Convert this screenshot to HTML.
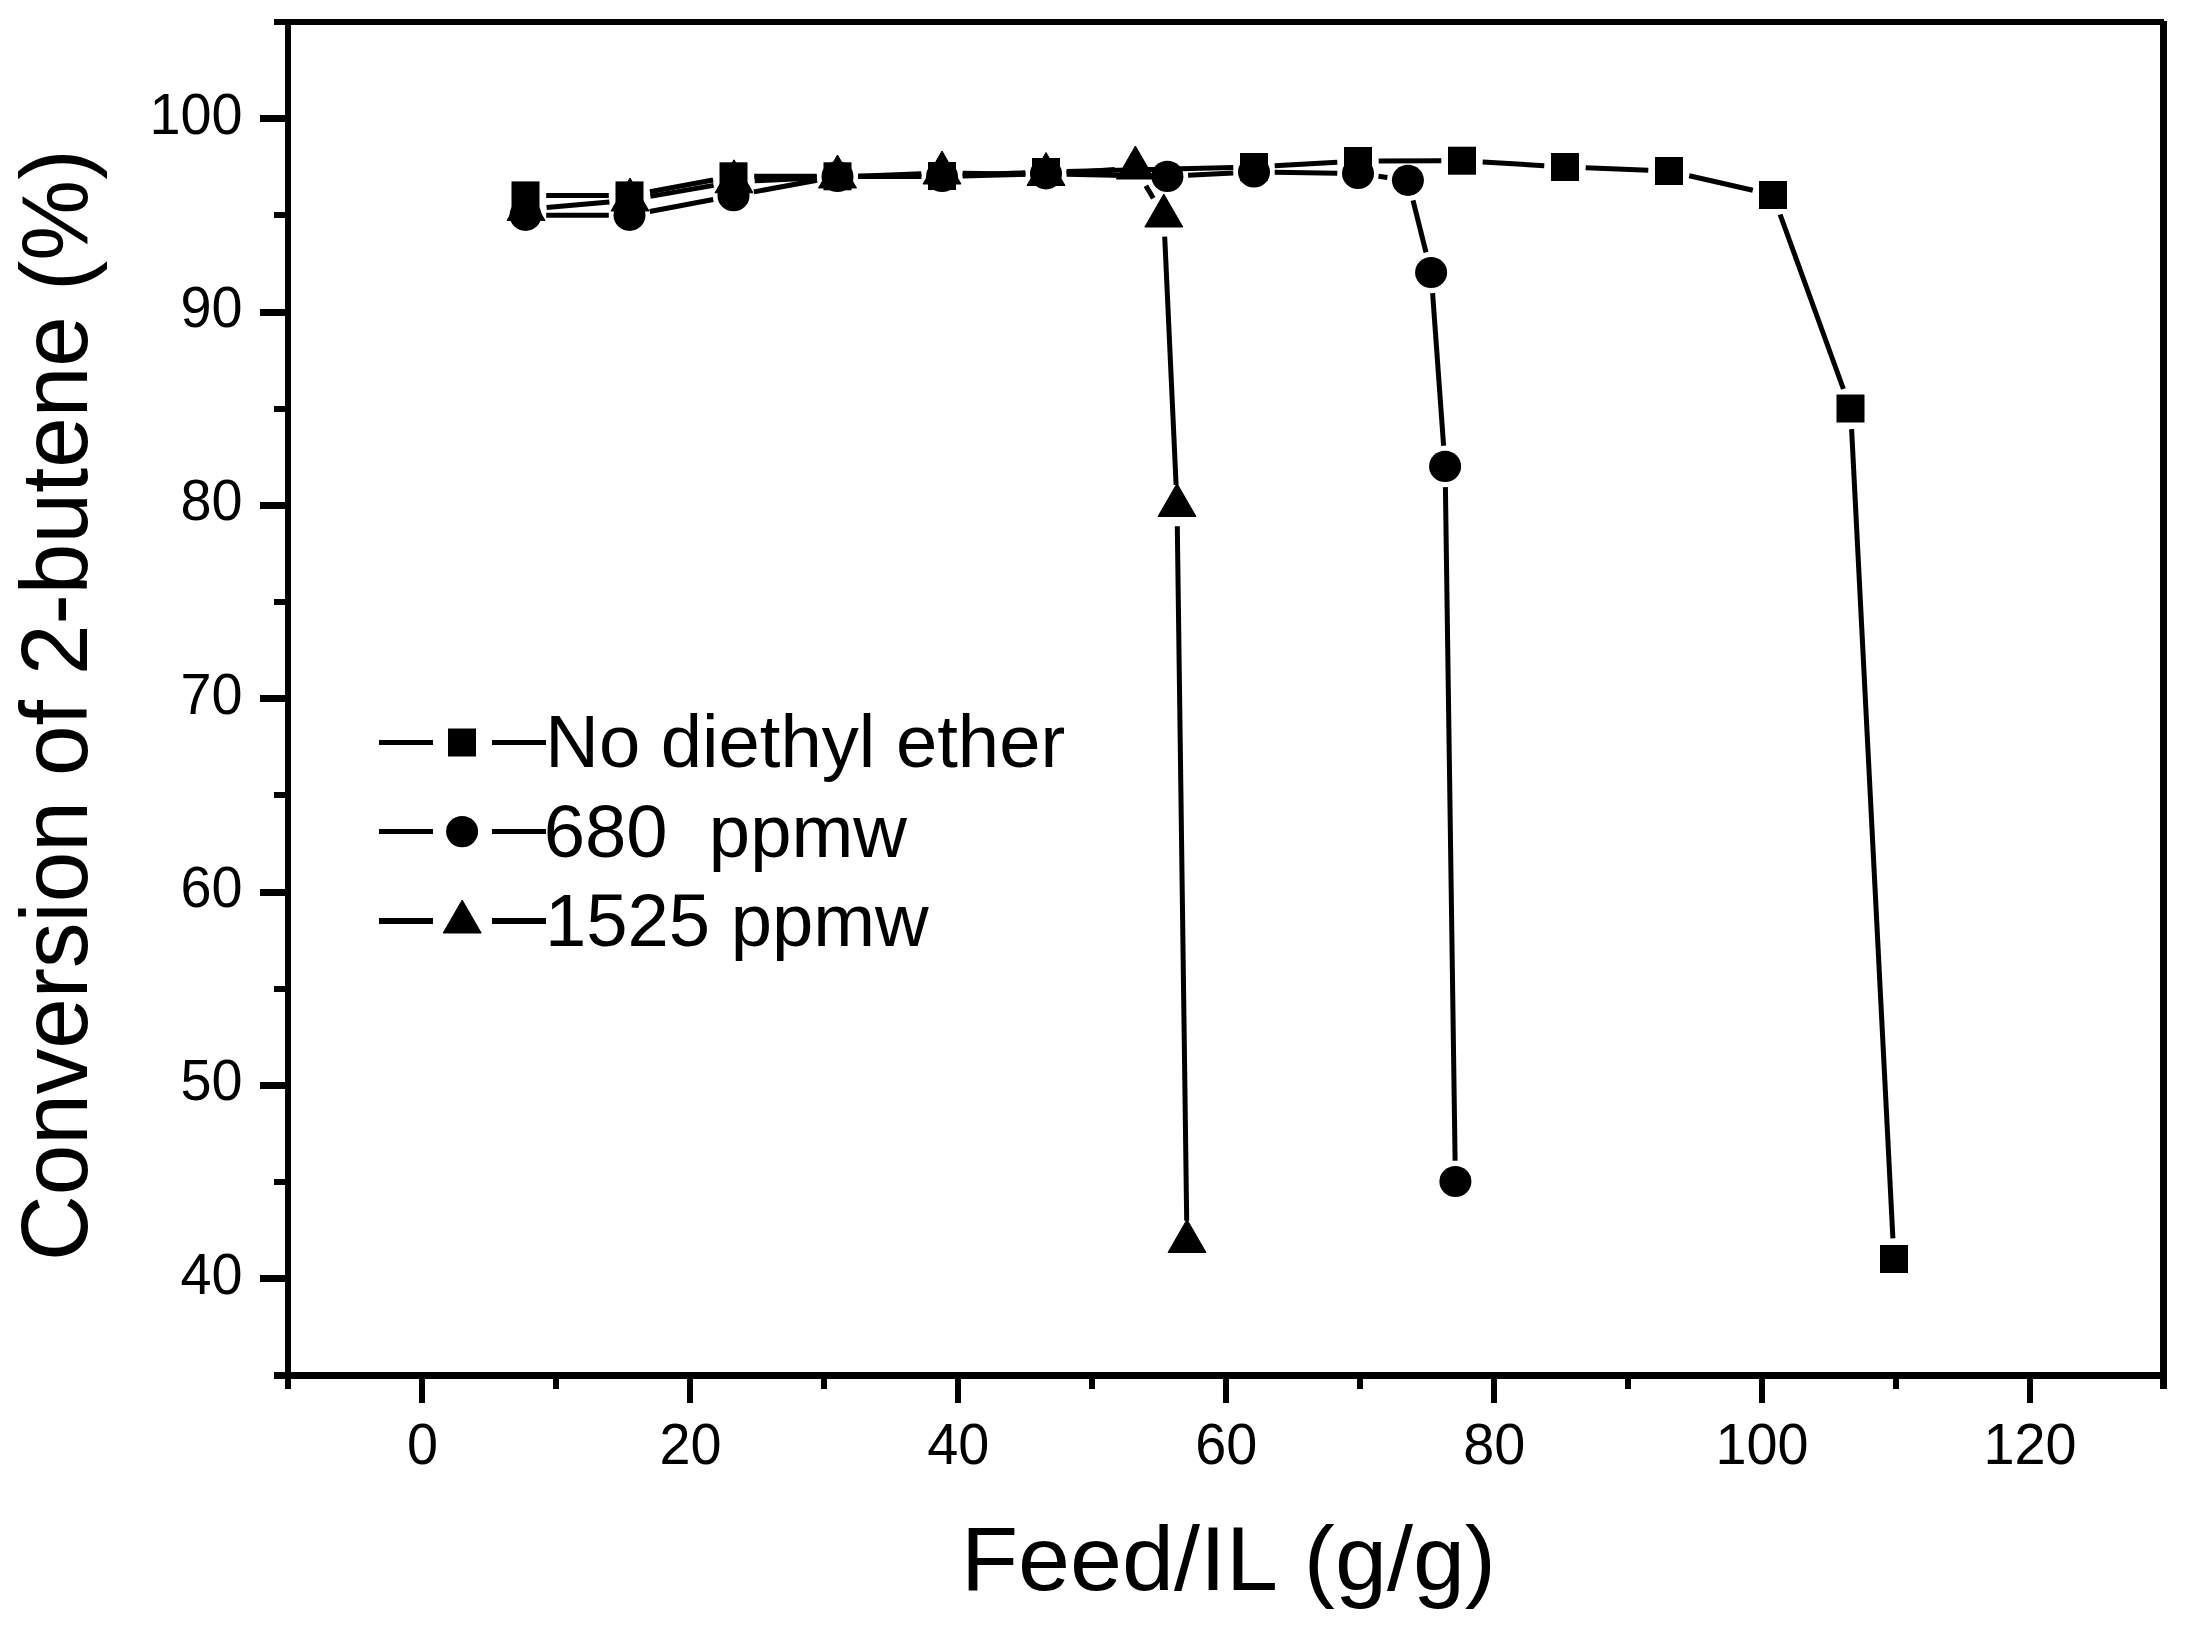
<!DOCTYPE html>
<html lang="en"><head><meta charset="utf-8"><title>Conversion of 2-butene vs Feed/IL</title>
<style>
html,body{margin:0;padding:0;background:#fff;}
body{width:2185px;height:1626px;overflow:hidden;}
svg{display:block;}
text{font-family:"Liberation Sans",Arial,Helvetica,sans-serif;fill:#000;font-kerning:none;}
.tick{font-size:56.8px;}
.leg{font-size:74px;}
.xlab{font-size:91.5px;}
.ylab{font-size:94px;}
</style></head><body>
<svg width="2185" height="1626" viewBox="0 0 2185 1626">
<rect x="0" y="0" width="2185" height="1626" fill="#fff"/>
<g id="axes" fill="#000" shape-rendering="crispEdges">
<rect x="274" y="19" width="1890" height="6"/>
<rect x="274" y="1372" width="1893" height="7"/>
<rect x="285" y="19" width="6" height="1370"/>
<rect x="2160" y="21" width="7" height="1368"/>
<rect x="260" y="1275" width="26" height="7"/>
<rect x="260" y="1082" width="26" height="7"/>
<rect x="260" y="889" width="26" height="7"/>
<rect x="260" y="695" width="26" height="7"/>
<rect x="260" y="502" width="26" height="7"/>
<rect x="260" y="309" width="26" height="7"/>
<rect x="260" y="115" width="26" height="7"/>
<rect x="274" y="1179" width="12" height="6"/>
<rect x="274" y="986" width="12" height="6"/>
<rect x="274" y="792" width="12" height="6"/>
<rect x="274" y="599" width="12" height="6"/>
<rect x="274" y="406" width="12" height="6"/>
<rect x="274" y="212" width="12" height="6"/>
<rect x="419" y="1378" width="6" height="25"/>
<rect x="687" y="1378" width="6" height="25"/>
<rect x="955" y="1378" width="6" height="25"/>
<rect x="1223" y="1378" width="6" height="25"/>
<rect x="1491" y="1378" width="6" height="25"/>
<rect x="1759" y="1378" width="6" height="25"/>
<rect x="2027" y="1378" width="6" height="25"/>
<rect x="553" y="1378" width="6" height="11"/>
<rect x="821" y="1378" width="6" height="11"/>
<rect x="1089" y="1378" width="6" height="11"/>
<rect x="1357" y="1378" width="6" height="11"/>
<rect x="1625" y="1378" width="6" height="11"/>
<rect x="1893" y="1378" width="6" height="11"/>
</g>
<g id="yticklabels">
<text class="tick" transform="translate(242.5 1293.6) scale(0.9820 1)" text-anchor="end">40</text>
<text class="tick" transform="translate(242.5 1100.3) scale(0.9820 1)" text-anchor="end">50</text>
<text class="tick" transform="translate(242.5 906.9) scale(0.9820 1)" text-anchor="end">60</text>
<text class="tick" transform="translate(242.5 713.5) scale(0.9820 1)" text-anchor="end">70</text>
<text class="tick" transform="translate(242.5 520.2) scale(0.9820 1)" text-anchor="end">80</text>
<text class="tick" transform="translate(242.5 326.8) scale(0.9820 1)" text-anchor="end">90</text>
<text class="tick" transform="translate(242.5 133.5) scale(0.9820 1)" text-anchor="end">100</text>
</g>
<g id="xticklabels">
<text class="tick" transform="translate(422.5 1463.5) scale(0.9820 1)" text-anchor="middle">0</text>
<text class="tick" transform="translate(690.4 1463.5) scale(0.9820 1)" text-anchor="middle">20</text>
<text class="tick" transform="translate(958.3 1463.5) scale(0.9820 1)" text-anchor="middle">40</text>
<text class="tick" transform="translate(1226.2 1463.5) scale(0.9820 1)" text-anchor="middle">60</text>
<text class="tick" transform="translate(1494.2 1463.5) scale(0.9820 1)" text-anchor="middle">80</text>
<text class="tick" transform="translate(1762.1 1463.5) scale(0.9820 1)" text-anchor="middle">100</text>
<text class="tick" transform="translate(2030.0 1463.5) scale(0.9820 1)" text-anchor="middle">120</text>
</g>
<text class="xlab" transform="translate(961.0 1589.8) scale(1.0215 1)" text-anchor="start">Feed/IL (g/g)</text>
<text class="ylab" transform="translate(87.0 1261) rotate(-90) scale(0.967 1)">Conversion of 2-butene (%)</text>
<g id="series-squares" fill="#000" stroke="#000" stroke-width="5">
<line x1="546.2" y1="195.4" x2="608.8" y2="195.4"/>
<line x1="649.9" y1="191.7" x2="713.1" y2="180.0"/>
<line x1="754.2" y1="176.3" x2="816.8" y2="176.3"/>
<line x1="858.2" y1="176.2" x2="921.3" y2="176.1"/>
<line x1="962.7" y1="175.2" x2="1025.3" y2="172.8"/>
<line x1="1066.7" y1="171.5" x2="1233.3" y2="167.5"/>
<line x1="1274.7" y1="165.8" x2="1337.3" y2="162.2"/>
<line x1="1378.7" y1="160.9" x2="1441.3" y2="160.8"/>
<line x1="1482.7" y1="162.0" x2="1544.3" y2="165.7"/>
<line x1="1585.7" y1="167.8" x2="1648.3" y2="170.2"/>
<line x1="1689.2" y1="175.7" x2="1752.8" y2="190.3"/>
<line x1="1780.1" y1="214.5" x2="1843.4" y2="389.0"/>
<line x1="1851.6" y1="429.2" x2="1892.9" y2="1238.3"/>
<g stroke="none">
<rect x="511.5" y="181.4" width="28" height="28"/>
<rect x="615.5" y="181.4" width="28" height="28"/>
<rect x="719.5" y="162.3" width="28" height="28"/>
<rect x="823.5" y="162.3" width="28" height="28"/>
<rect x="928.0" y="162.0" width="28" height="28"/>
<rect x="1032.0" y="158.0" width="28" height="28"/>
<rect x="1240.0" y="153.0" width="28" height="28"/>
<rect x="1344.0" y="147.0" width="28" height="28"/>
<rect x="1448.0" y="146.7" width="28" height="28"/>
<rect x="1551.0" y="153.0" width="28" height="28"/>
<rect x="1655.0" y="157.0" width="28" height="28"/>
<rect x="1759.0" y="181.0" width="28" height="28"/>
<rect x="1836.5" y="394.5" width="28" height="28"/>
<rect x="1880.0" y="1245.0" width="28" height="28"/>
</g></g>
<g id="series-circles" fill="#000" stroke="#000" stroke-width="5">
<line x1="546.2" y1="215.3" x2="608.8" y2="215.3"/>
<line x1="649.8" y1="211.5" x2="713.2" y2="199.5"/>
<line x1="753.9" y1="191.9" x2="817.1" y2="180.3"/>
<line x1="858.2" y1="176.5" x2="921.3" y2="176.5"/>
<line x1="962.7" y1="176.0" x2="1025.3" y2="174.3"/>
<line x1="1066.7" y1="174.2" x2="1146.7" y2="176.0"/>
<line x1="1188.1" y1="175.3" x2="1233.3" y2="173.1"/>
<line x1="1274.7" y1="172.3" x2="1337.3" y2="173.2"/>
<line x1="1378.5" y1="176.3" x2="1387.4" y2="177.5"/>
<line x1="1413.0" y1="200.4" x2="1426.0" y2="252.4"/>
<line x1="1432.6" y1="293.1" x2="1443.6" y2="445.8"/>
<line x1="1445.4" y1="487.1" x2="1455.1" y2="1160.8"/>
<g stroke="none">
<ellipse cx="525.5" cy="215.3" rx="16" ry="15.6"/>
<ellipse cx="629.5" cy="215.3" rx="16" ry="15.6"/>
<ellipse cx="733.5" cy="195.7" rx="16" ry="15.6"/>
<ellipse cx="837.5" cy="176.5" rx="16" ry="15.6"/>
<ellipse cx="942.0" cy="176.5" rx="16" ry="15.6"/>
<ellipse cx="1046.0" cy="173.8" rx="16" ry="15.6"/>
<ellipse cx="1167.4" cy="176.4" rx="16" ry="15.6"/>
<ellipse cx="1254.0" cy="172.0" rx="16" ry="15.6"/>
<ellipse cx="1358.0" cy="173.5" rx="16" ry="15.6"/>
<ellipse cx="1407.9" cy="180.3" rx="16" ry="15.6"/>
<ellipse cx="1431.1" cy="272.5" rx="16" ry="15.6"/>
<ellipse cx="1445.1" cy="466.4" rx="16" ry="15.6"/>
<ellipse cx="1455.4" cy="1181.5" rx="16" ry="15.6"/>
</g></g>
<g id="series-triangles" fill="#000" stroke="#000" stroke-width="5">
<line x1="546.6" y1="207.6" x2="609.4" y2="201.9"/>
<line x1="650.4" y1="196.4" x2="713.6" y2="185.4"/>
<line x1="754.7" y1="180.8" x2="816.8" y2="178.0"/>
<line x1="858.2" y1="176.2" x2="921.3" y2="173.8"/>
<line x1="962.7" y1="173.3" x2="1025.3" y2="174.2"/>
<line x1="1066.6" y1="173.0" x2="1114.8" y2="169.5"/>
<line x1="1145.9" y1="185.8" x2="1153.3" y2="198.2"/>
<line x1="1164.7" y1="236.7" x2="1176.1" y2="484.8"/>
<line x1="1177.3" y1="526.2" x2="1186.7" y2="1220.8"/>
<g stroke-width="1" stroke-linejoin="round">
<polygon points="526.0,187.5 545.0,220.5 507.0,220.5"/>
<polygon points="630.0,178.0 649.0,211.0 611.0,211.0"/>
<polygon points="734.0,159.8 753.0,192.8 715.0,192.8"/>
<polygon points="837.5,155.0 856.5,188.0 818.5,188.0"/>
<polygon points="942.0,151.0 961.0,184.0 923.0,184.0"/>
<polygon points="1046.0,152.5 1065.0,185.5 1027.0,185.5"/>
<polygon points="1135.4,146.0 1154.4,179.0 1116.4,179.0"/>
<polygon points="1163.8,194.0 1182.8,227.0 1144.8,227.0"/>
<polygon points="1177.0,483.5 1196.0,516.5 1158.0,516.5"/>
<polygon points="1187.0,1219.5 1206.0,1252.5 1168.0,1252.5"/>
</g></g>
<g id="legend" fill="#000">
<rect x="379" y="739.5" width="54" height="5.6" shape-rendering="crispEdges"/>
<rect x="492" y="739.5" width="54" height="5.6" shape-rendering="crispEdges"/>
<rect x="379" y="828.6" width="54" height="5.6" shape-rendering="crispEdges"/>
<rect x="492" y="828.6" width="54" height="5.6" shape-rendering="crispEdges"/>
<rect x="379" y="918.1" width="54" height="5.6" shape-rendering="crispEdges"/>
<rect x="492" y="918.1" width="54" height="5.6" shape-rendering="crispEdges"/>
<rect x="448.0" y="728.5" width="28" height="28"/>
<ellipse cx="462.1" cy="831.6" rx="16" ry="15.6"/>
<g stroke="#000" stroke-width="1" stroke-linejoin="round">
<polygon points="462.2,900.0 481.2,933.0 443.2,933.0"/>
</g>
<text class="leg" transform="translate(545.3 767.2) scale(1.0030 1)" text-anchor="start">No diethyl ether</text>
<text class="leg" transform="translate(543.8 857.0) scale(1.0030 1)" text-anchor="start">680&#160;&#160;ppmw</text>
<text class="leg" transform="translate(545.0 946.3) scale(1.0030 1)" text-anchor="start">1525 ppmw</text>
</g>
</svg>
</body></html>
